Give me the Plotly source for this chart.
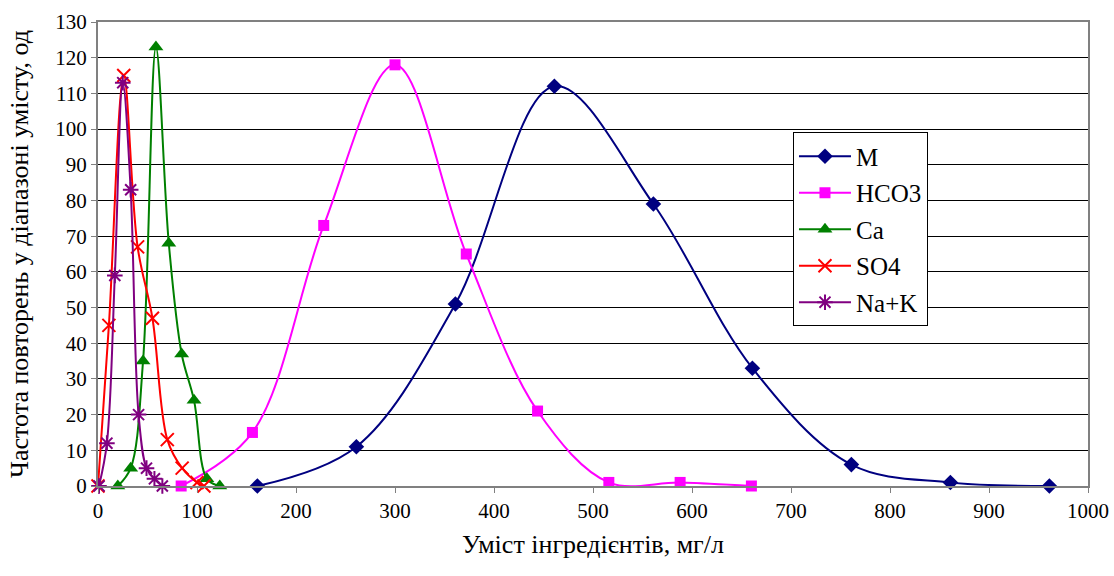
import plotly.graph_objects as go

# Data
m_x = [161, 261, 361, 461, 561, 661, 761, 861, 961]
m_y = [0, 11, 51, 112, 79, 33, 6, 1, 0]

hco3_x = [84, 156, 228, 300, 372, 444, 516, 588, 660]
hco3_y = [0, 15, 73, 118, 65, 21, 1, 1, 0]

ca_x = [20, 33, 45.5, 58.5, 71.5, 84.5, 97, 110, 123]
ca_y = [0, 5, 35, 123, 68, 37, 24, 2, 0]

so4_x = [0, 11, 26, 40, 55, 70, 85, 100, 107]
so4_y = [0, 45, 115, 67, 47, 13, 5, 1, 0]

nak_x = [1, 9, 17, 25, 33, 41, 49, 57, 65]
nak_y = [0, 12, 59, 113, 83, 20, 5, 2, 0]

x_ticks = list(range(0, 1001, 100))
y_ticks = list(range(0, 131, 10))

series = [
    ("M", m_x, m_y, "#000080", dict(symbol="diamond", size=12)),
    ("HCO3", hco3_x, hco3_y, "#FF00FF", dict(symbol="square", size=11)),
    ("Ca", ca_x, ca_y, "#008000", dict(symbol="triangle-up", size=13)),
    ("SO4", so4_x, so4_y, "#FF0000", dict(symbol="x-thin-open", size=13)),
    ("Na+K", nak_x, nak_y, "#800080", dict(symbol="asterisk-open", size=13)),
]

fig = go.Figure()
for name, xs, ys, col, mk in series:
    marker = dict(color=col, **mk)
    if "open" in mk["symbol"]:
        marker["line"] = dict(color=col, width=2)
    else:
        marker["line"] = dict(width=0)
    fig.add_trace(go.Scatter(
        x=xs, y=ys, name=name, mode="lines+markers",
        line=dict(color=col, width=2, shape="spline", smoothing=1.0),
        marker=marker, cliponaxis=False, legendgroup=name,
    ))

font_fam = "Liberation Serif"
fig.update_layout(
    width=1114, height=576,
    margin=dict(l=98, r=26, t=22, b=90),
    paper_bgcolor="white", plot_bgcolor="white",
    font=dict(family=font_fam, size=21, color="black"),
    xaxis=dict(
        range=[0, 1000], tickvals=x_ticks, ticks="outside", ticklen=5,
        tickcolor="#808080", showgrid=False, showline=True, linecolor="#808080",
        linewidth=2, mirror=True, zeroline=False,
        tickfont=dict(size=21, family=font_fam),
        title=dict(text="Уміст інгредієнтів, мг/л", font=dict(size=26, family=font_fam), standoff=13),
        automargin=False,
    ),
    yaxis=dict(
        range=[0, 130], tickvals=y_ticks, ticks="outside", ticklen=5,
        tickcolor="#808080", showgrid=True, gridcolor="black", gridwidth=1,
        showline=True, linecolor="#808080", linewidth=2, mirror=True,
        zeroline=False, tickfont=dict(size=21, family=font_fam),
        title=dict(text="Частота повторень у діапазоні умісту, од", font=dict(size=26, family=font_fam), standoff=19),
        automargin=False,
    ),
    legend=dict(
        x=0.702, y=0.762, xanchor="left", yanchor="top",
        bgcolor="white", bordercolor="black", borderwidth=1,
        font=dict(size=25, family=font_fam), tracegroupgap=1,
        itemwidth=52,
    ),
)

fig.write_html("out.html", config={"displayModeBar": False},
               post_script="document.body.style.margin='0';document.body.style.padding='0';")
